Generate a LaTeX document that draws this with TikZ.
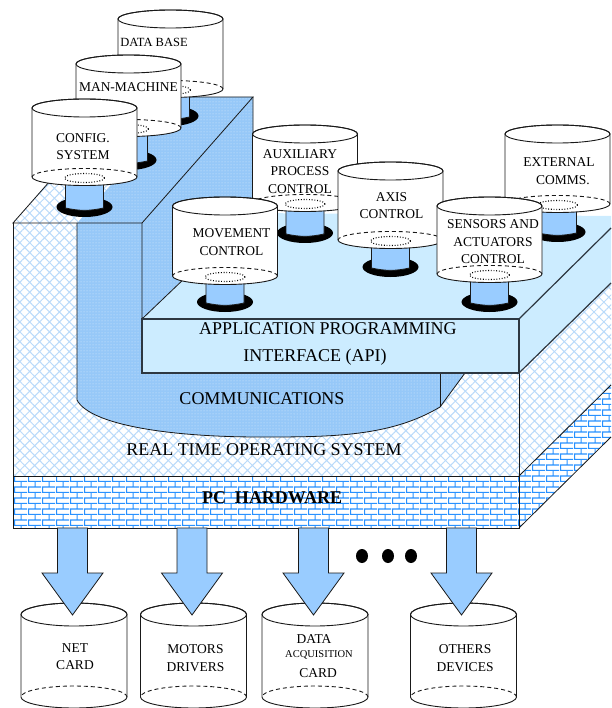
\documentclass[tikz,border=0pt]{standalone}
\usepackage{fontspec}
\setmainfont{Liberation Serif}
\usetikzlibrary{patterns.meta}

\definecolor{apiblue}{RGB}{204,236,255}
\definecolor{stemblue}{RGB}{153,204,255}
\definecolor{commsblue}{RGB}{150,200,248}
\definecolor{hatchblue}{RGB}{185,218,250}
\definecolor{brickblue}{RGB}{40,145,255}
\definecolor{edge}{RGB}{25,25,25}
\definecolor{apiedge}{RGB}{45,55,65}

% brick tiling for the hardware layer
\pgfdeclarepattern{
  name=hwbricks,
  type=uncolored,
  bottom left={\pgfpoint{0pt}{0pt}},
  top right={\pgfpoint{14pt}{11.4pt}},
  tile size={\pgfpoint{14pt}{11.4pt}},
  code={
    \pgfsetlinewidth{1.2pt}
    \pgfpathmoveto{\pgfpoint{0pt}{0.6pt}}\pgfpathlineto{\pgfpoint{14pt}{0.6pt}}
    \pgfpathmoveto{\pgfpoint{0pt}{6.3pt}}\pgfpathlineto{\pgfpoint{14pt}{6.3pt}}
    \pgfpathmoveto{\pgfpoint{0.6pt}{0.6pt}}\pgfpathlineto{\pgfpoint{0.6pt}{6.3pt}}
    \pgfpathmoveto{\pgfpoint{7.6pt}{6.3pt}}\pgfpathlineto{\pgfpoint{7.6pt}{11.4pt}}
    \pgfusepath{stroke}
  }
}

\tikzset{
  face/.style={draw=edge, line width=0.8pt},
  rtos/.style={preaction={fill=white}, pattern={Hatch[angle=45,distance=7pt,line width=1pt]}, pattern color=hatchblue},
  comms/.style={preaction={fill=commsblue}, pattern={Dots[distance=3pt,radius=0.5pt]}, pattern color=white!65!commsblue},
  bricks/.style={preaction={fill=white}, pattern={hwbricks}, pattern color=brickblue},
  apibox/.style={draw=apiedge, line width=1.4pt, fill=apiblue},
  cylline/.style={draw=edge, line width=0.9pt},
  dotline/.style={draw=black, line width=1.1pt, dash pattern=on 0.9pt off 1.8pt},
  layertext/.style={font=\fontsize{18}{20}\selectfont, inner sep=0pt},
  hwtext/.style={font=\fontsize{18}{20}\selectfont\bfseries, inner sep=0pt},
  cyltext/.style={font=\fontsize{13.5}{17.5}\selectfont, align=center, inner sep=0pt},
}

% module on a stem: name, centre x, top y, bottom y, shadow y, text x, text y, text
\newcommand{\topcyl}[8]{%
  \fill[black] (#2,-#5) ellipse [x radius=28, y radius=10];
  \draw[draw=edge, line width=0.8pt, fill=stemblue] ({#2-19},-#4) -- ({#2-19},{-#5-1})
     to[bend right=12] ({#2+19},{-#5-1}) -- ({#2+19},-#4);
  \draw[cylline, fill=white] ({#2-52.5},-#3) -- ({#2-52.5},-#4)
     arc[start angle=180, end angle=360, x radius=52.5, y radius=8.5]
     -- ({#2+52.5},-#3) arc[start angle=0, end angle=180, x radius=52.5, y radius=9] -- cycle;
  \draw[cylline] (#2,-#3) ellipse [x radius=52.5, y radius=9];
  \draw[cylline, dash pattern=on 4pt off 3pt] ({#2+52.5},-#4)
     arc[start angle=0, end angle=180, x radius=52.5, y radius=8.5];
  \draw[dotline] (#2,{-#4-1}) ellipse [x radius=20, y radius=4.5];
  \node[cyltext] (#1) at (#6,-#7) {#8};
}

% device under the hardware: centre x
\newcommand{\devcyl}[1]{%
  \draw[cylline, fill=white] ({#1-53},-614.5) -- ({#1-53},-697)
     arc[start angle=180, end angle=360, x radius=53, y radius=11]
     -- ({#1+53},-614.5) arc[start angle=0, end angle=180, x radius=53, y radius=11.5] -- cycle;
  \draw[cylline] (#1,-614.5) ellipse [x radius=53, y radius=11.5];
  \draw[cylline, dash pattern=on 4pt off 3pt] ({#1+53},-697)
     arc[start angle=0, end angle=180, x radius=53, y radius=11];
}

% block arrow from the hardware: centre x
\newcommand{\hwarrow}[1]{%
  \draw[face, fill=stemblue] ({#1-15},-528) -- ({#1-15},-573) -- ({#1-30.5},-573)
     -- (#1,-615) -- ({#1+30.5},-573) -- ({#1+15},-573) -- ({#1+15},-528) -- cycle;
}

\begin{document}
\begin{tikzpicture}[x=1pt, y=1pt]
\useasboundingbox (0,0) rectangle (611,-708);

% ---------- faces ----------
% right side of the stack
\path[rtos] (519,-373) -- (611,-283) -- (611,-385) -- (519,-476) -- cycle;
\path[bricks] (519,-476) -- (611,-385) -- (611,-437) -- (519,-528) -- cycle;
\fill[apiblue] (519,-319) -- (611,-228) -- (611,-283) -- (519,-373) -- cycle;

% front: real time operating system
\path[rtos] (13,-223) rectangle (519,-476);

% front: communications layer
\path[comms] (77,-223) -- (142,-223) -- (142,-373) -- (465,-373) -- (440,-407)
   .. controls (390,-437) and (330,-437) .. (260,-437)
   .. controls (170,-437) and (90,-425) .. (77,-400) -- cycle;

% front: PC hardware
\path[bricks] (13,-476) rectangle (519,-528);

% top of the left column
\path[comms] (13,-223) -- (142,-223) -- (253,-97) -- (124,-97) -- cycle;
\path[rtos] (13,-223) -- (77,-223) -- (115,-180) -- (51,-180) -- cycle;

% right face of the left column
\path[comms] (142,-223) -- (253,-97) -- (253,-213) -- (142,-319) -- cycle;

% top of the API layer
\fill[apiblue] (142,-319) -- (519,-319) -- (611,-228) -- (611,-216) -- (253,-213) -- cycle;

% ---------- edges ----------
\draw[apiedge, line width=1.2pt] (519,-319) -- (611,-228);
\draw[apiedge, line width=1.2pt] (519,-373) -- (611,-283);
\draw[face] (519,-476) -- (611,-385);
\draw[face] (519,-528) -- (611,-437);
\draw[face] (77,-223) -- (77,-400) .. controls (90,-425) and (170,-437) .. (260,-437)
   .. controls (330,-437) and (390,-437) .. (440,-407) -- (465,-373);
\draw[face] (440,-407) -- (440,-373);
\draw[face] (13,-223) -- (13,-476) -- (519,-476) -- (519,-373);
\draw[face] (13,-476) rectangle (519,-528);
\draw[face] (13,-223) -- (142,-223) -- (253,-97) -- (124,-97) -- cycle;
\draw[face] (142,-223) -- (142,-319) -- (253,-213) -- (253,-97);

% API front
\draw[apibox] (142,-319) rectangle (519,-373);

% ---------- layer labels ----------
\node[layertext] (api1) at (328,-328.5) {APPLICATION PROGRAMMING};
\node[layertext] (api2) at (315,-357.5) {INTERFACE (API)};
\node[layertext] (comm) at (262,-399) {COMMUNICATIONS};
\node[layertext] (rtos) at (264,-450) {REAL TIME OPERATING SYSTEM};
\node[hwtext] (hw) at (272,-498) {PC\ \ HARDWARE};

% ---------- software modules ----------
\topcyl{db}{170.5}{19}{89}{116}{154}{42}{\fontsize{12.5}{15}\selectfont DATA BASE}
\topcyl{mm}{128.5}{64}{128}{160}{128.5}{87}{MAN-MACHINE}
\topcyl{cfg}{84.5}{108}{177}{207}{83}{146.5}{CONFIG.\\SYSTEM}
\topcyl{aux}{305}{134}{203}{233}{300}{171.5}{AUXILIARY\\PROCESS\\CONTROL}
\topcyl{ext}{557.5}{134}{204}{232}{559}{171}{EXTERNAL\\\hspace*{8pt}COMMS.}
\topcyl{axis}{390.5}{171}{240}{267}{391.5}{205.5}{AXIS\\CONTROL}
\topcyl{mov}{225}{206}{276}{302}{231.5}{242}{MOVEMENT\\CONTROL}
\topcyl{sens}{489.5}{206}{274}{302}{493}{242}{SENSORS AND\\ACTUATORS\\CONTROL}

% ---------- devices ----------
\devcyl{74}
\devcyl{193.5}
\devcyl{315}
\devcyl{463.5}
\node[cyltext] (net) at (75,-656.5) {NET\\CARD};
\node[cyltext] (mot) at (195.5,-658) {MOTORS\\DRIVERS};
\node[cyltext] (daq1) at (314,-639) {DATA};
\node[cyltext, font=\fontsize{10.5}{12}\selectfont] (daq2) at (319,-655) {ACQUISITION};
\node[cyltext] (daq3) at (318,-673) {CARD};
\node[cyltext] (oth) at (465,-658) {OTHERS\\DEVICES};

% ---------- arrows and ellipsis ----------
\hwarrow{72.5}
\hwarrow{192}
\hwarrow{313.5}
\hwarrow{461.5}
\fill[black] (362,-556) ellipse [x radius=6, y radius=7];
\fill[black] (388,-556) ellipse [x radius=6, y radius=7];
\fill[black] (411,-556) ellipse [x radius=6, y radius=7];
\end{tikzpicture}
\end{document}
